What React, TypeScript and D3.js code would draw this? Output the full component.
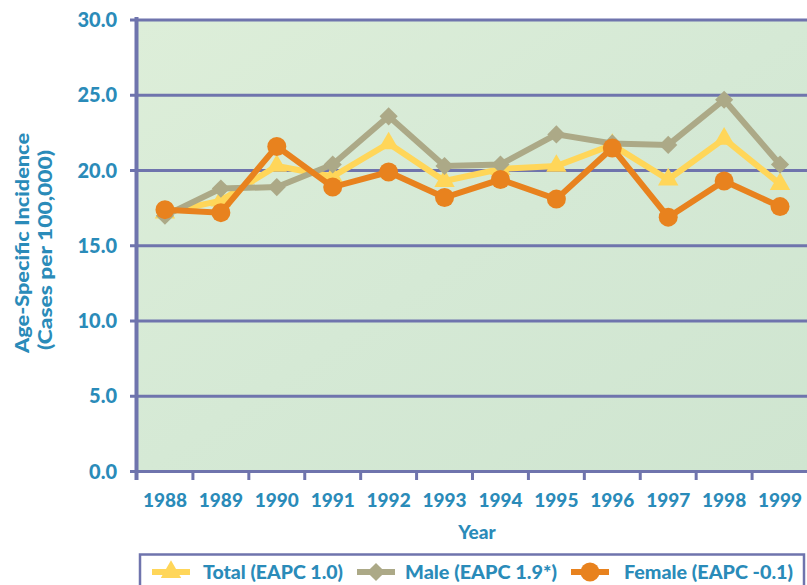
import React from "react";
import * as d3 from "d3";

const years = ["1988","1989","1990","1991","1992","1993","1994","1995","1996","1997","1998","1999"];
const totalValues = [17.2, 18.0, 20.3, 19.6, 21.8, 19.3, 20.1, 20.3, 21.7, 19.4, 22.1, 19.1];
const maleValues = [17.0, 18.8, 18.9, 20.4, 23.6, 20.3, 20.4, 22.4, 21.8, 21.7, 24.7, 20.4];
const femaleValues = [17.4, 17.2, 21.6, 18.9, 19.9, 18.2, 19.4, 18.1, 21.5, 16.9, 19.3, 17.6];
const yTicks = [0, 5, 10, 15, 20, 25, 30];
const legendLabels = ["Total (EAPC 1.0)", "Male (EAPC 1.9*)", "Female (EAPC -0.1)"];

const W = 807, H = 585;
const left = 137, right = 808, top = 20, bottom = 471.5;
const TEXT = "#2a8bb9";
const GRID = "#6f74ad";
const C_TOTAL = "#ffd659";
const C_MALE = "#aca987";
const C_FEMALE = "#e8821e";
const FONT = "Lato, 'Open Sans', sans-serif";

export default function App() {
  const x = d3.scaleBand<string>().domain(years).range([left, right]).padding(0);
  const y = d3.scaleLinear().domain([0, 30]).range([bottom, top]);
  const cx = (yr: string) => (x(yr) as number) + x.bandwidth() / 2;
  const line = d3.line<number>().x((_, i) => cx(years[i])).y((v) => y(v));

  const tri = d3.symbol().type(d3.symbolTriangle).size(180)();
  const dia = d3.symbol().type(d3.symbolSquare).size(165)();

  const series = [
    { vals: totalValues, color: C_TOTAL, kind: "tri" },
    { vals: maleValues, color: C_MALE, kind: "dia" },
    { vals: femaleValues, color: C_FEMALE, kind: "circ" },
  ];

  const marker = (kind: string, color: string, px: number, py: number, key?: any) => {
    if (kind === "circ") return <circle key={key} cx={px} cy={py} r={9.5} fill={color} />;
    if (kind === "dia")
      return <path key={key} d={dia} transform={`translate(${px},${py}) rotate(45)`} fill={color} />;
    return <path key={key} d={tri} transform={`translate(${px},${py})`} fill={color} />;
  };

  const legendItems = [
    { label: legendLabels[0], color: C_TOTAL, kind: "tri", x0: 152, tx: 203, len: 140 },
    { label: legendLabels[1], color: C_MALE, kind: "dia", x0: 357, tx: 405, len: 152 },
    { label: legendLabels[2], color: C_FEMALE, kind: "circ", x0: 571, tx: 624, len: 169 },
  ];

  return (
    <svg width={W} height={H} style={{ position: "absolute", left: 0, top: 0, display: "block" }}
      fontFamily={FONT} fontWeight={900}>
      <defs>
        <linearGradient id="bg" x1="0" y1="0" x2="1" y2="1">
          <stop offset="0%" stopColor="#ddeed9" />
          <stop offset="50%" stopColor="#d5e9d5" />
          <stop offset="100%" stopColor="#cfe5d0" />
        </linearGradient>
      </defs>
      <rect x={0} y={0} width={W} height={H} fill="#ffffff" />
      <rect x={left} y={top} width={W - left} height={bottom - top} fill="url(#bg)" />

      {yTicks.map((t) => (
        <g key={t}>
          <line x1={130} x2={W} y1={y(t)} y2={y(t)} stroke={GRID} strokeWidth={3.2} />
          <text x={117} y={y(t)} dy="0.36em" textAnchor="end" fill={TEXT} fontSize={20}>
            {t.toFixed(1)}
          </text>
        </g>
      ))}
      <line x1={136.5} x2={136.5} y1={17} y2={480} stroke={GRID} strokeWidth={4} />
      {years.map((yr, i) => (
        <g key={yr}>
          {i > 0 && (
            <line x1={x(yr) as number} x2={x(yr) as number} y1={bottom} y2={480} stroke={GRID} strokeWidth={3} />
          )}
          <text x={cx(yr)} y={506.5} textAnchor="middle" fill={TEXT} fontSize={19}>{yr}</text>
        </g>
      ))}

      <text x={477} y={539} textAnchor="middle" fill={TEXT} fontSize={19}>Year</text>
      <g transform="rotate(-90)">
        <text x={-243} y={29} textAnchor="middle" fill={TEXT} fontSize={18.5}
          textLength={220} lengthAdjust="spacingAndGlyphs">Age-Specific Incidence</text>
        <text x={-250} y={52} textAnchor="middle" fill={TEXT} fontSize={18.5}
          textLength={200} lengthAdjust="spacingAndGlyphs">(Cases per 100,000)</text>
      </g>

      {series.map((s, si) => (
        <g key={si}>
          <path d={line(s.vals) as string} fill="none" stroke={s.color} strokeWidth={6} strokeLinejoin="miter" />
          {s.vals.map((v, i) => marker(s.kind, s.color, cx(years[i]), y(v), i))}
        </g>
      ))}

      <rect x={140} y={554.5} width={664} height={40} fill="#ffffff" stroke={GRID} strokeWidth={2.5} />
      {legendItems.map((it) => (
        <g key={it.label}>
          <line x1={it.x0} x2={it.x0 + 38} y1={572} y2={572} stroke={it.color} strokeWidth={6} />
          {marker(it.kind, it.color, it.x0 + 19, 572)}
          <text x={it.tx} y={572} dy="0.36em" fill={TEXT} fontSize={19}
            textLength={it.len} lengthAdjust="spacingAndGlyphs">{it.label}</text>
        </g>
      ))}
    </svg>
  );
}
